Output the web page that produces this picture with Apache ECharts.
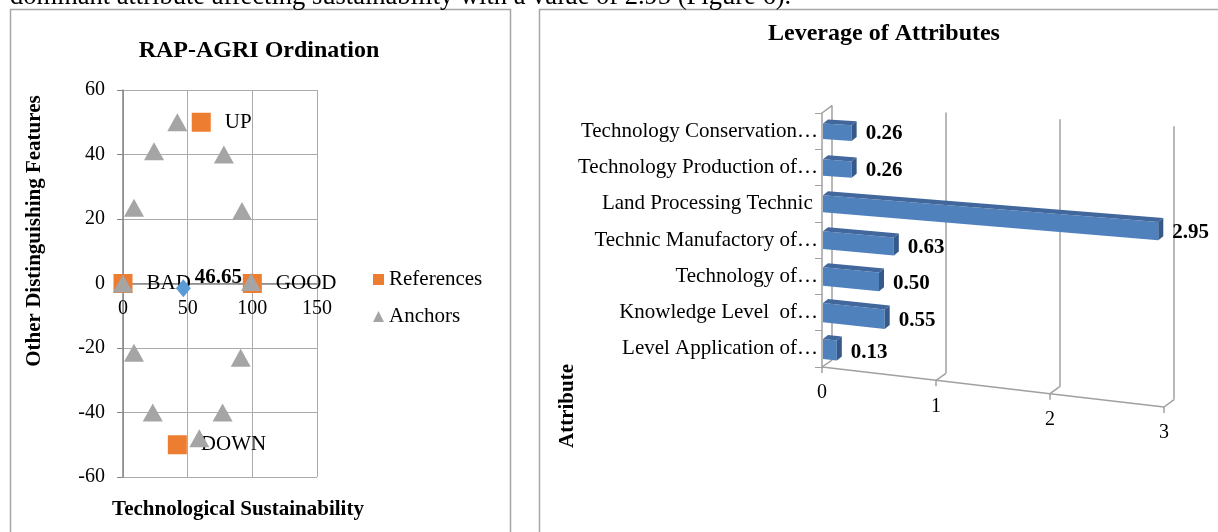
<!DOCTYPE html>
<html lang="en">
<head>
	<meta charset="utf-8">
	<title>RAP-AGRI Ordination / Leverage of Attributes</title>
	<script src="https://cdn.jsdelivr.net/npm/echarts@6/dist/echarts.min.js"></script>
</head>
<body style="margin:0;background:#fff">
<div id="container" style="width:1218px;height:532px"></div>
<script type="text/javascript">

	// ordination: reference points, anchors, and the computed status point
	var refNames = ['BAD', 'GOOD', 'UP', 'DOWN'];
	var refX = [0, 100, 60.5, 42];
	var refY = [0, 0, 50, -50];
	var anchorX = [0, 99, 42, 24, 78, 8.5, 92, 8.5, 91, 23, 77, 59];
	var anchorY = [0, 0.5, 50, 41, 40, 23.5, 22.5, -21.5, -23, -40, -40, -48];
	var statusX = [46.65];
	var statusY = [-1.5];

	// leverage of attributes (top to bottom as shown)
	var attributes = [
		'Technology Conservation\u2026',
		'Technology Production of\u2026',
		'Land Processing Technic ',
		'Technic Manufactory of\u2026',
		'Technology of\u2026',
		'Knowledge Level  of\u2026',
		'Level Application of\u2026'
	];
	var leverage = [0.26, 0.26, 2.95, 0.63, 0.50, 0.55, 0.13];
	var leverageTicks = [0, 1, 2, 3];

	var serif = 'Liberation Serif';
	var dom = document.getElementById('container');
	var myChart = echarts.init(dom, null, {renderer: 'canvas'});

	// fake perspective of the excel 3d chart: rows slope down to the right,
	// more so near the floor
	function proj(x, y, cs) {
		var t = (y - cs.y) / cs.height;
		var k = 0.062 + 0.055 * t;
		return [x, y + (x - cs.x) * k];
	}
	var backOff = [10, -8];
	var depth = [5, -4];

	function renderFrame(params, api) {
		var cs = params.coordSys;
		var v = api.value(0);
		var x = api.coord([v, 0])[0];
		var top = cs.y, bottom = cs.y + cs.height;
		var line = {stroke: '#A0A0A0', lineWidth: 1.5};
		var fb = proj(x, bottom, cs);
		var bb = proj(x + backOff[0], bottom + backOff[1], cs);
		var bt = proj(x + backOff[0], top + backOff[1], cs);
		var kids = [
			{type: 'line', shape: {x1: bt[0], y1: bt[1], x2: bb[0], y2: bb[1]}, style: line},
			{type: 'line', shape: {x1: bb[0], y1: bb[1], x2: fb[0], y2: fb[1]}, style: line},
			{type: 'line', shape: {x1: fb[0], y1: fb[1], x2: fb[0], y2: fb[1] + 6}, style: line},
			{type: 'text', x: fb[0], y: fb[1] + 26, style: {
				text: String(v), font: '20px "' + serif + '"', fill: '#000',
				align: 'center', verticalAlign: 'middle'}}
		];
		if (params.dataIndex > 0) {
			var px = api.coord([leverageTicks[params.dataIndex - 1], 0])[0];
			var pb = proj(px, bottom, cs);
			kids.push({type: 'line', shape: {x1: pb[0], y1: pb[1], x2: fb[0], y2: fb[1]}, style: line});
		} else {
			var ft = proj(x, top, cs);
			kids.push({type: 'line', shape: {x1: ft[0], y1: ft[1], x2: bt[0], y2: bt[1]}, style: line});
		}
		return {type: 'group', children: kids};
	}

	function renderBar(params, api) {
		var cs = params.coordSys;
		var v = api.value(0), c = api.value(1);
		var s = api.coord([0, c]), e = api.coord([v, c]);
		var band = api.size([0, 1])[1];
		var t = (s[1] - cs.y) / cs.height;
		var h = band * (0.42 + 0.14 * t);
		var y0 = s[1] - h / 2, y1 = s[1] + h / 2;
		var x0 = s[0] + 1, x1 = e[0];
		var tl = proj(x0, y0, cs), tr = proj(x1, y0, cs), br = proj(x1, y1, cs), bl = proj(x0, y1, cs);
		function sh(p) { return [p[0] + depth[0], p[1] + depth[1]]; }
		var lab = proj(x1 + depth[0] + 9, s[1], cs);
		return {type: 'group', children: [
			{type: 'polygon', shape: {points: [tl, tr, br, bl]}, style: {fill: '#4F81BD'}},
			{type: 'polygon', shape: {points: [tl, tr, sh(tr), sh(tl)]}, style: {fill: '#41679C'}},
			{type: 'polygon', shape: {points: [tr, sh(tr), sh(br), br]}, style: {fill: '#355A8A'}},
			{type: 'text', x: lab[0], y: lab[1], style: {
				text: v.toFixed(2), font: 'bold 21px "' + serif + '"', fill: '#000',
				align: 'left', verticalAlign: 'middle'}}
		]};
	}

	var option = {
		animation: false,
		title: [
			{text: 'RAP-AGRI Ordination', left: 259, top: 39, textAlign: 'center', padding: 0,
				textStyle: {fontFamily: serif, fontWeight: 'bold', fontSize: 24, color: '#000'}},
			{text: 'Leverage of Attributes', left: 884, top: 22, textAlign: 'center', padding: 0,
				textStyle: {fontFamily: serif, fontWeight: 'bold', fontSize: 24, color: '#000'}}
		],
		legend: {
			data: [{name: 'References', icon: 'rect'}, {name: 'Anchors', icon: 'triangle'}],
			orient: 'vertical', left: 373, top: 269, padding: 0,
			itemWidth: 11, itemHeight: 11, itemGap: 16,
			textStyle: {fontFamily: serif, fontSize: 21, color: '#000'}
		},
		graphic: [
			{type: 'rect', shape: {x: 10.5, y: 9.5, width: 500, height: 600},
				style: {fill: 'none', stroke: '#A6A6A6', lineWidth: 1.5}},
			{type: 'rect', shape: {x: 539.5, y: 9.5, width: 720, height: 600},
				style: {fill: 'none', stroke: '#A6A6A6', lineWidth: 1.5}},
			{type: 'text', left: 10, top: -16, style: {
				text: 'dominant attribute affecting sustainability with a value of 2.95 (Figure 6).',
				font: '26.5px "' + serif + '"', fill: '#000'}},
			{type: 'text', x: 35, y: 231, rotation: Math.PI / 2, style: {
				text: 'Other Distinguishing Features', font: 'bold 21px "' + serif + '"', fill: '#000',
				align: 'center', verticalAlign: 'middle'}},
			{type: 'text', x: 238, y: 510, style: {
				text: 'Technological Sustainability', font: 'bold 21px "' + serif + '"', fill: '#000',
				align: 'center', verticalAlign: 'middle'}},
			{type: 'text', x: 568, y: 406, rotation: Math.PI / 2, style: {
				text: 'Attribute', font: 'bold 21px "' + serif + '"', fill: '#000',
				align: 'center', verticalAlign: 'middle'}}
		],
		grid: [
			{left: 123, top: 90, width: 194, height: 387},
			{left: 822, top: 113, width: 342, height: 254}
		],
		xAxis: [
			// axis sits on y = 0, moved up from the bottom of the grid
			{type: 'value', gridIndex: 0, min: 0, max: 150, interval: 50, offset: -193.5,
				axisLine: {show: true, onZero: false, lineStyle: {color: '#868686', width: 1.5}},
				axisTick: {show: false},
				axisLabel: {fontFamily: serif, fontSize: 20, color: '#000', margin: 15},
				splitLine: {lineStyle: {color: '#ABABAB', width: 1}}},
			{type: 'value', gridIndex: 1, min: 0, max: 3, interval: 1, show: false}
		],
		yAxis: [
			{type: 'value', gridIndex: 0, min: -60, max: 60, interval: 20,
				axisLine: {show: true, lineStyle: {color: '#868686', width: 1.5}},
				axisTick: {show: true, length: 6, lineStyle: {color: '#868686'}},
				axisLabel: {fontFamily: serif, fontSize: 20, color: '#000', margin: 18},
				splitLine: {lineStyle: {color: '#ABABAB', width: 1}}},
			{type: 'category', gridIndex: 1, data: attributes, inverse: true,
				axisLine: {show: true, lineStyle: {color: '#A0A0A0', width: 1.5}},
				axisTick: {show: true, length: 7, lineStyle: {color: '#A0A0A0'}},
				axisLabel: {fontFamily: serif, fontSize: 21, color: '#000', margin: 4},
				splitLine: {show: false}}
		],
		series: [
			{
				name: 'References', type: 'scatter', xAxisIndex: 0, yAxisIndex: 0,
				symbol: 'rect', symbolSize: 19, itemStyle: {color: '#ED7D31', opacity: 1},
				data: refX.map(function (x, i) { return {value: [x, refY[i]], name: refNames[i]}; }),
				label: {show: true, formatter: '{b}', position: 'right', distance: 14,
					fontFamily: serif, fontSize: 21, color: '#000'},
				z: 3
			},
			{
				name: 'Anchors', type: 'scatter', xAxisIndex: 0, yAxisIndex: 0,
				symbol: 'triangle', symbolSize: [20, 18], itemStyle: {color: '#A5A5A5', opacity: 1},
				data: anchorX.map(function (x, i) { return [x, anchorY[i]]; }),
				z: 4
			},
			{
				name: 'Status', type: 'scatter', xAxisIndex: 0, yAxisIndex: 0,
				symbol: 'diamond', symbolSize: [15, 18], itemStyle: {color: '#5B9BD5', opacity: 1},
				data: statusX.map(function (x, i) { return [x, statusY[i]]; }),
				label: {show: true, position: 'right', distance: 4, offset: [0, -11],
					formatter: function (p) { return p.value[0].toFixed(2); },
					fontFamily: serif, fontSize: 21, fontWeight: 'bold', color: '#000'},
				z: 5
			},
			{
				name: 'frame', type: 'custom', xAxisIndex: 1, yAxisIndex: 1, silent: true, z: 1,
				data: leverageTicks.map(function (t) { return [t, 0]; }),
				encode: {x: 0, y: 1},
				renderItem: renderFrame
			},
			{
				name: 'Leverage', type: 'custom', xAxisIndex: 1, yAxisIndex: 1, z: 3,
				data: leverage.map(function (v, i) { return [v, i]; }),
				encode: {x: 0, y: 1},
				renderItem: renderBar
			}
		]
	};

	myChart.setOption(option);
	window.addEventListener('resize', myChart.resize);
</script>
</body>
</html>
